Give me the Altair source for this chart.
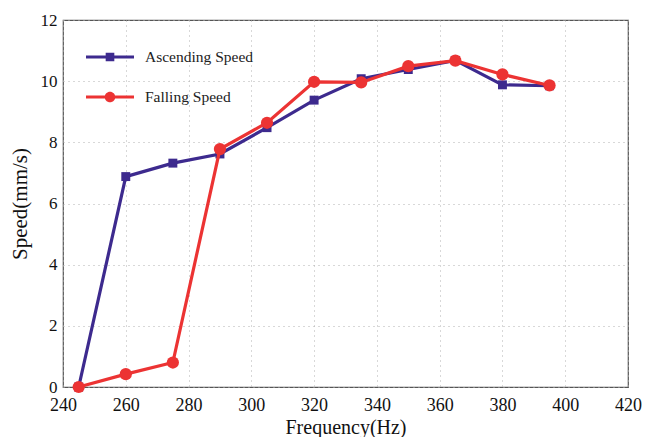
import altair as alt
import pandas as pd

freq = [245, 260, 275, 290, 305, 320, 335, 350, 365, 380, 395]
ascending = [0.0, 6.88, 7.32, 7.62, 8.48, 9.38, 10.08, 10.38, 10.68, 9.88, 9.85]
falling = [0.0, 0.42, 0.80, 7.78, 8.64, 9.98, 9.96, 10.49, 10.67, 10.22, 9.86]
series_names = ["Ascending Speed", "Falling Speed"]
colors = ["#3D2A8E", "#EC3333"]
x_ticks = list(range(240, 421, 20))
y_ticks = list(range(0, 13, 2))

rows = []
for i, f in enumerate(freq):
    rows.append({"freq": f, "speed": ascending[i], "series": series_names[0]})
for i, f in enumerate(freq):
    rows.append({"freq": f, "speed": falling[i], "series": series_names[1]})
df = pd.DataFrame(rows)

FONT = "Liberation Serif"

x_enc = alt.X("freq:Q",
              scale=alt.Scale(domain=[240, 420], nice=False, zero=False),
              axis=alt.Axis(values=x_ticks, title="Frequency(Hz)", ticks=False,
                            labelFlush=False, labelOverlap=False,
                            labelFont=FONT, labelFontSize=18, labelColor="#111",
                            labelPadding=9, titleFont=FONT, titleFontSize=20,
                            titleFontWeight="normal", titleColor="#111", titlePadding=3,
                            grid=True, gridDash=[1, 4], gridColor="#b0b0b0",
                            domain=False))
y_enc = alt.Y("speed:Q",
              scale=alt.Scale(domain=[0, 12], nice=False),
              axis=alt.Axis(values=y_ticks, title="Speed(mm/s)", ticks=False,
                            labelFlush=False, labelOverlap=False,
                            labelFont=FONT, labelFontSize=17, labelColor="#111",
                            labelPadding=6, titleFont=FONT, titleFontSize=21,
                            titleFontWeight="normal", titleColor="#111", titlePadding=10,
                            grid=True, gridDash=[1, 4], gridColor="#b0b0b0",
                            domain=False))
color_scale = alt.Scale(domain=series_names, range=colors)

line_asc = alt.Chart(df).transform_filter(alt.datum.series == series_names[0]).mark_line(
    strokeWidth=3.2).encode(x=x_enc, y=y_enc,
                           color=alt.Color("series:N", scale=color_scale, legend=None))
pts_asc = alt.Chart(df).transform_filter(alt.datum.series == series_names[0]).mark_point(
    filled=True, opacity=1, shape="square", size=80).encode(
    x=x_enc, y=y_enc,
    color=alt.Color("series:N", scale=color_scale, legend=None),
)
line_fall = alt.Chart(df).transform_filter(alt.datum.series == series_names[1]).mark_line(
    strokeWidth=3.2).encode(x=x_enc, y=y_enc,
                           color=alt.Color("series:N", scale=color_scale, legend=None))
pts_fall = alt.Chart(df).transform_filter(alt.datum.series == series_names[1]).mark_point(
    filled=True, opacity=1, shape="circle", size=150).encode(
    x=x_enc, y=y_enc,
    color=alt.Color("series:N", scale=color_scale, legend=None),
)

# legend symbols: line segment + marker (unit = sqrt(size)/2 px)
sq_path = "M-2,-0.13H2V0.13H-2Z M-0.36,-0.36H0.36V0.36H-0.36Z"
ci_path = ("M-2,-0.13H2V0.13H-2Z M-0.44,0A0.44,0.44,0,1,1,0.44,0"
           "A0.44,0.44,0,1,1,-0.44,0Z")

leg = dict(orient="none", legendX=35, legendY=25, title=None, padding=0,
           symbolSize=576, rowPadding=19, labelOffset=23, labelFont=FONT,
           labelFontSize=15.5, labelColor="#222", symbolStrokeWidth=0, symbolOpacity=1)

legend_layer = alt.Chart(df).transform_filter("false").mark_point(
    filled=True, opacity=1).encode(
    x=x_enc, y=y_enc,
    fill=alt.Fill("series:N", scale=alt.Scale(domain=series_names, range=colors),
                  legend=alt.Legend(**leg)),
    shape=alt.Shape("series:N",
                    scale=alt.Scale(domain=series_names, range=[sq_path, ci_path]),
                    legend=alt.Legend(**leg)),
)

chart = alt.layer(line_asc, pts_asc, line_fall, pts_fall, legend_layer).resolve_scale(
    shape="independent", fill="independent"
).properties(
    width=565, height=367,
    padding={"left": 63, "top": 20, "right": 19, "bottom": 50},
    autosize=alt.AutoSizeParams(type="none"),
    background="white",
).configure_view(stroke="#555555", strokeWidth=1.2)

chart.save("out.html", embed_options={"renderer": "svg", "actions": False})
